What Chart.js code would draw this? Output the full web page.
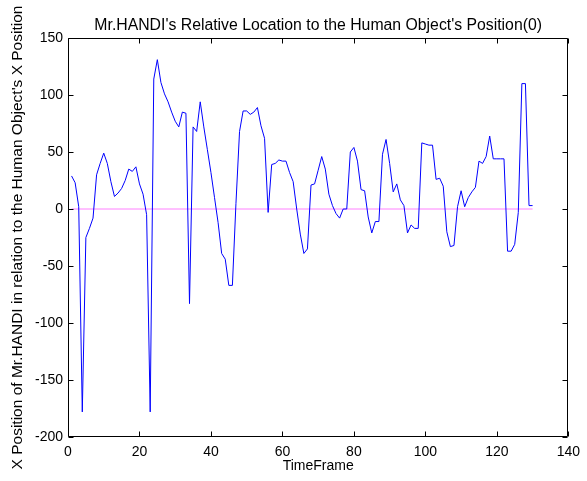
<!DOCTYPE html>
<html>
<head>
<meta charset="utf-8">
<script src="https://cdn.jsdelivr.net/npm/chart.js@4/dist/chart.umd.min.js"></script>
<style>
  html, body { margin: 0; padding: 0; background: #fff; }
  #wrap { width: 587px; height: 481px; }
</style>
</head>
<body>
<div id="wrap"><canvas id="myChart" width="587" height="481"></canvas></div>
<script>
// X position of Mr.HANDI for each time frame (1..130)
const xPosition = [
  29, 23, 2, -178, -25, -17, -8, 30, 40, 49,
  40, 24, 11, 14, 18, 25, 35, 33, 37, 22,
  13, -5, -178, 114, 131, 111, 101, 94, 85, 77,
  72, 85, 84, -83, 72, 68, 94, 72, 52, 32,
  10, -12, -39, -44, -67, -67, 5, 68, 86, 86,
  83, 85, 89, 73, 62, -3, 39, 40, 43, 42,
  42, 32, 24, 0, -22, -39, -35, 21, 22, 34,
  46, 35, 13, 3, -4, -8, 0, 0, 50, 54,
  42, 17, 16, -7, -21, -11, -11, 48, 61, 40,
  15, 22, 8, 3, -21, -14, -17, -17, 58, 57,
  56, 56, 26, 27, 20, -20, -33, -32, 2, 16,
  2, 10, 15, 19, 42, 40, 46, 64, 44, 44,
  44, 44, -37, -37, -31, -3, 110, 110, 3, 3
];
const frames = xPosition.map((v, i) => i + 1);

// human object's position (reference line)
const humanFrames = [1, 130];
const humanPos = [0, 0];

const xTicks = [0, 20, 40, 60, 80, 100, 120, 140];
const yTicks = [-200, -150, -100, -50, 0, 50, 100, 150];

const titleText = "Mr.HANDI's Relative Location to the Human Object's Position(0)";
const fontFam = "'Liberation Sans', Arial, sans-serif";
const ctx = document.getElementById('myChart');

// matlab style box with inward ticks on all four sides, title centred over the axes
const boxPlugin = {
  id: 'boxPlugin',
  afterDraw(chart) {
    const c = chart.ctx;
    const a = chart.chartArea;
    const xs = chart.scales.x, ys = chart.scales.y;
    const L = Math.round(a.left) + 0.5, R = Math.round(a.right) - 0.5;
    const T = Math.round(a.top) + 0.5, B = Math.round(a.bottom) - 0.5;
    c.save();
    c.strokeStyle = '#000';
    c.lineWidth = 1;
    c.beginPath();
    c.rect(L, T, R - L, B - T);
    xTicks.forEach(t => {
      const px = Math.round(xs.getPixelForValue(t)) + 0.5;
      c.moveTo(px, B); c.lineTo(px, B - 5);
      c.moveTo(px, T); c.lineTo(px, T + 5);
    });
    yTicks.forEach(t => {
      const py = Math.round(ys.getPixelForValue(t)) + 0.5;
      c.moveTo(L, py); c.lineTo(L + 5, py);
      c.moveTo(R, py); c.lineTo(R - 5, py);
    });
    c.stroke();

    c.fillStyle = '#000';
    c.font = '15.8px ' + fontFam;
    c.textAlign = 'center';
    c.textBaseline = 'alphabetic';
    c.fillText(titleText, (a.left + a.right) / 2, 30);
    c.restore();
  }
};

new Chart(ctx, {
  type: 'line',
  data: {
    datasets: [{
      data: frames.map((f, i) => ({x: f, y: xPosition[i]})),
      borderColor: '#0000ff',
      borderWidth: 1,
      pointRadius: 0,
      tension: 0
    }, {
      data: humanFrames.map((f, i) => ({x: f, y: humanPos[i]})),
      borderColor: '#ff80ff',
      borderWidth: 1,
      pointRadius: 0
    }]
  },
  options: {
    responsive: false,
    animation: false,
    layout: { padding: { left: 0, right: 14, top: 38, bottom: 0 } },
    plugins: {
      legend: { display: false },
      tooltip: { enabled: false },
      title: { display: false }
    },
    scales: {
      x: {
        type: 'linear',
        min: 0, max: 140,
        afterFit: s => { s.height = 44; },
        afterBuildTicks: s => { s.ticks = xTicks.map(v => ({value: v})); },
        grid: { display: false, drawTicks: false },
        border: { display: false },
        ticks: { color: '#000', padding: 7, maxRotation: 0, font: { family: fontFam, size: 14 } },
        title: {
          display: true, text: 'TimeFrame', color: '#000',
          font: { family: fontFam, size: 14 }, padding: { top: 0, bottom: 6 }
        }
      },
      y: {
        type: 'linear',
        min: -200, max: 150,
        afterFit: s => { s.width = 68; },
        afterBuildTicks: s => { s.ticks = yTicks.map(v => ({value: v})); },
        grid: { display: false, drawTicks: false },
        border: { display: false },
        ticks: { color: '#000', padding: 5, font: { family: fontFam, size: 14 } },
        title: {
          display: true, text: "X Position of Mr.HANDI in relation to the Human Object's X Position", color: '#000',
          font: { family: fontFam, size: 15.5 }, padding: { top: 8, bottom: 0 }
        }
      }
    }
  },
  plugins: [boxPlugin]
});
</script>
</body>
</html>
